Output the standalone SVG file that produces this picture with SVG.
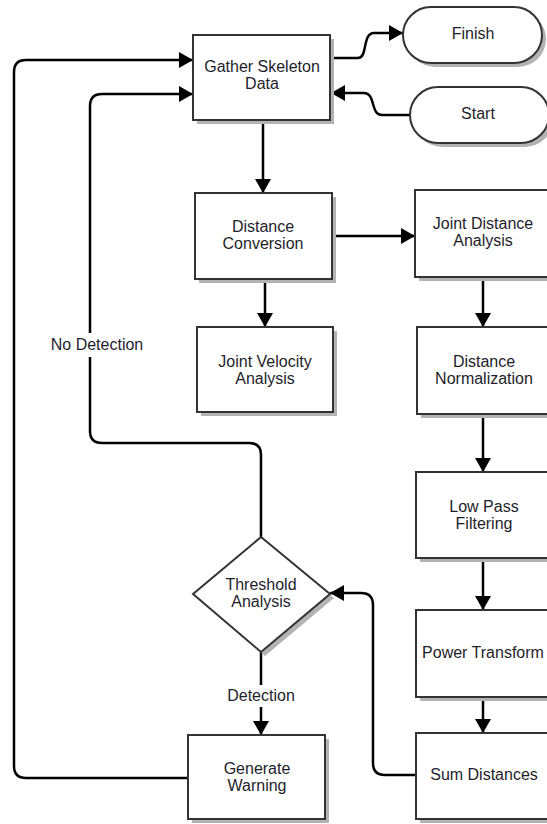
<svg xmlns="http://www.w3.org/2000/svg" width="547" height="824" viewBox="0 0 547 824">
<defs>
<style>
.box{fill:#fff;stroke:#333;stroke-width:2}
.sh{fill:#b3b3b3;stroke:none}
.c{fill:none;stroke:#000;stroke-width:2.5}
.t{font-family:"Liberation Sans",Arial,sans-serif;font-size:16px;fill:#1e1e2a;text-anchor:middle}
.lbg{fill:#fff;stroke:none}
</style>
<marker id="ah" viewBox="0 0 14 16" refX="14" refY="8" markerWidth="14" markerHeight="16" markerUnits="userSpaceOnUse" orient="auto">
<path d="M0,0 L14,8 L0,16 z" fill="#000"/>
</marker>
</defs>
<rect width="547" height="824" fill="#fff"/>

<g id="connectors">
<path class="c" d="M330,58 H358 C368,58 362,33 374,33 H403" marker-end="url(#ah)"/>
<path class="c" d="M410,115 H382 C370,115 376,93 364,93 H331" marker-end="url(#ah)"/>
<path class="c" d="M263,120 V193" marker-end="url(#ah)"/>
<path class="c" d="M332,236 H415" marker-end="url(#ah)"/>
<path class="c" d="M265,279 V327" marker-end="url(#ah)"/>
<path class="c" d="M483,277 V327" marker-end="url(#ah)"/>
<path class="c" d="M483,414 V472" marker-end="url(#ah)"/>
<path class="c" d="M483,558 V610" marker-end="url(#ah)"/>
<path class="c" d="M483,697 V733" marker-end="url(#ah)"/>
<path class="c" d="M416,775 H385 C377,775 373,771 373,763 V605 C373,597 369,593 361,593 H330" marker-end="url(#ah)"/>
<path class="c" d="M261,537 V455 C261,447 257,443 249,443 H102 C94,443 90,439 90,431 V106 C90,98 94,94 102,94 H193" marker-end="url(#ah)"/>
<path class="c" d="M188,778 H26 C18,778 14,774 14,766 V72 C14,64 18,60 26,60 H193" marker-end="url(#ah)"/>
<path class="c" d="M261,652 V735" marker-end="url(#ah)"/>
<rect class="lbg" x="46" y="333" width="100" height="24"/>
<text class="t" x="97" y="350">No Detection</text>
<rect class="lbg" x="226" y="685" width="70" height="22"/>
<text class="t" x="261" y="701">Detection</text>
</g>

<g id="finish">
<rect class="sh" x="407" y="11" width="139" height="56" rx="28"/>
<rect class="box" x="403" y="7" width="139" height="56" rx="28"/>
<text class="t" x="473" y="39">Finish</text>
</g>
<g id="start">
<rect class="sh" x="414" y="91" width="139" height="56" rx="28"/>
<rect class="box" x="410" y="87" width="139" height="56" rx="28"/>
<text class="t" x="478" y="119">Start</text>
</g>
<g id="gather">
<rect class="sh" x="197" y="39" width="137" height="85"/>
<rect class="box" x="193" y="35" width="137" height="85"/>
<text class="t" x="262" y="72">Gather Skeleton</text>
<text class="t" x="262" y="89">Data</text>
</g>
<g id="distance-conversion">
<rect class="sh" x="199" y="197" width="137" height="86"/>
<rect class="box" x="195" y="193" width="137" height="86"/>
<text class="t" x="263" y="232">Distance</text>
<text class="t" x="263" y="249">Conversion</text>
</g>
<g id="joint-distance">
<rect class="sh" x="419" y="194" width="137" height="87"/>
<rect class="box" x="415" y="190" width="137" height="87"/>
<text class="t" x="483" y="229">Joint Distance</text>
<text class="t" x="483" y="246">Analysis</text>
</g>
<g id="joint-velocity">
<rect class="sh" x="201" y="331" width="136" height="85"/>
<rect class="box" x="197" y="327" width="136" height="85"/>
<text class="t" x="265" y="367">Joint Velocity</text>
<text class="t" x="265" y="384">Analysis</text>
</g>
<g id="distance-normalization">
<rect class="sh" x="421" y="331" width="137" height="87"/>
<rect class="box" x="417" y="327" width="137" height="87"/>
<text class="t" x="484" y="367">Distance</text>
<text class="t" x="484" y="384">Normalization</text>
</g>
<g id="low-pass">
<rect class="sh" x="420" y="476" width="137" height="86"/>
<rect class="box" x="416" y="472" width="137" height="86"/>
<text class="t" x="484" y="512">Low Pass</text>
<text class="t" x="484" y="529">Filtering</text>
</g>
<g id="power-transform">
<rect class="sh" x="420" y="614" width="137" height="87"/>
<rect class="box" x="416" y="610" width="137" height="87"/>
<text class="t" x="483" y="658">Power Transform</text>
</g>
<g id="sum-distances">
<rect class="sh" x="420" y="737" width="137" height="86"/>
<rect class="box" x="416" y="733" width="137" height="86"/>
<text class="t" x="484" y="780">Sum Distances</text>
</g>
<g id="threshold">
<polygon class="sh" points="265,541 334,598 265,656 197,598"/>
<polygon class="box" points="261,537 330,594 261,652 193,594"/>
<text class="t" x="261" y="590">Threshold</text>
<text class="t" x="261" y="607">Analysis</text>
</g>
<g id="generate-warning">
<rect class="sh" x="192" y="739" width="137" height="84"/>
<rect class="box" x="188" y="735" width="137" height="84"/>
<text class="t" x="257" y="774">Generate</text>
<text class="t" x="257" y="791">Warning</text>
</g>
</svg>
